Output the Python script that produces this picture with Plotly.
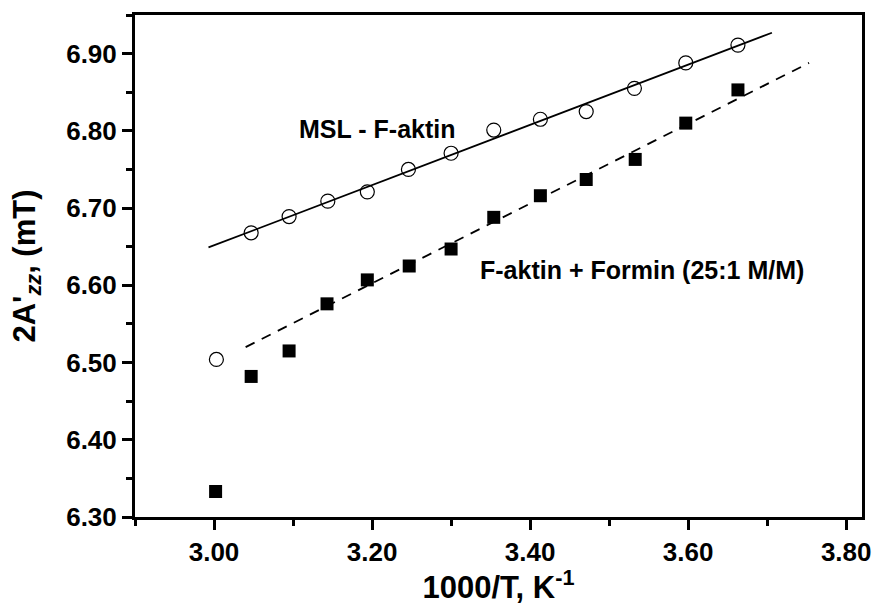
import plotly.graph_objects as go

# Data
msl_x = [3.003, 3.047, 3.095, 3.144, 3.194, 3.246, 3.300, 3.354, 3.413, 3.471, 3.532, 3.597, 3.663]
msl_y = [6.504, 6.668, 6.689, 6.709, 6.721, 6.750, 6.771, 6.801, 6.815, 6.825, 6.855, 6.888, 6.911]

formin_x = [3.002, 3.047, 3.095, 3.143, 3.194, 3.247, 3.300, 3.354, 3.413, 3.471, 3.533, 3.597, 3.663]
formin_y = [6.333, 6.482, 6.515, 6.576, 6.607, 6.625, 6.647, 6.688, 6.716, 6.737, 6.763, 6.810, 6.853]

msl_fit_x = [2.993, 3.706]
msl_fit_y = [6.649, 6.927]
formin_fit_x = [3.040, 3.753]
formin_fit_y = [6.520, 6.888]

x_ticks = [3.00, 3.20, 3.40, 3.60, 3.80]
y_ticks = [6.30, 6.40, 6.50, 6.60, 6.70, 6.80, 6.90]

FONT = "Arial, Liberation Sans, sans-serif"

fig = go.Figure()
fig.add_trace(go.Scatter(x=msl_fit_x, y=msl_fit_y, mode="lines",
                         line=dict(color="black", width=1.8), showlegend=False))
fig.add_trace(go.Scatter(x=formin_fit_x, y=formin_fit_y, mode="lines",
                         line=dict(color="black", width=1.8, dash="10px,8px"), showlegend=False))
fig.add_trace(go.Scatter(x=msl_x, y=msl_y, mode="markers",
                         marker=dict(symbol="circle-open", size=14, color="black",
                                     line=dict(width=1.2, color="black")),
                         showlegend=False))
fig.add_trace(go.Scatter(x=formin_x, y=formin_y, mode="markers",
                         marker=dict(symbol="square", size=13, color="black"),
                         showlegend=False))

fig.add_annotation(x=3.2065, y=6.802, text="<b>MSL - F-aktin</b>", showarrow=False,
                   font=dict(family=FONT, size=25, color="black"))
fig.add_annotation(x=3.541, y=6.620, text="<b>F-aktin + Formin (25:1 M/M)</b>", showarrow=False,
                   font=dict(family=FONT, size=25, color="black"))

fig.update_layout(
    width=881, height=605,
    margin=dict(l=135, r=10, t=15, b=86),
    plot_bgcolor="white", paper_bgcolor="white",
    font=dict(family=FONT, color="black"),
)
fig.update_xaxes(
    range=[2.90, 3.82], tickvals=x_ticks, ticktext=[f"<b>{v:.2f}</b>" for v in x_ticks],
    showgrid=False, zeroline=False,
    showline=True, linewidth=3, linecolor="black", mirror=True,
    ticks="outside", ticklen=10, tickwidth=2.5, tickcolor="black",
    minor=dict(ticks="outside", ticklen=6, tickwidth=2.5, tickcolor="black", dtick=0.1, tick0=2.9),
    tickfont=dict(family=FONT, size=26, color="black"),
    title=dict(text="<b>1000/T, K<sup>-1</sup></b>", standoff=6,
               font=dict(family=FONT, size=31, color="black")),
)
fig.update_yaxes(
    range=[6.30, 6.95], tickvals=y_ticks, ticktext=[f"<b>{v:.2f}</b>" for v in y_ticks],
    showgrid=False, zeroline=False,
    showline=True, linewidth=3, linecolor="black", mirror=True,
    ticks="outside", ticklen=10, tickwidth=2.5, tickcolor="black",
    minor=dict(ticks="outside", ticklen=6, tickwidth=2.5, tickcolor="black", dtick=0.05, tick0=6.3),
    tickfont=dict(family=FONT, size=26, color="black"),
    title=dict(text="<b>2A'<sub><i>zz</i></sub>, (mT)</b>", standoff=22,
               font=dict(family=FONT, size=31, color="black")),
)

fig.write_html("out.html")
